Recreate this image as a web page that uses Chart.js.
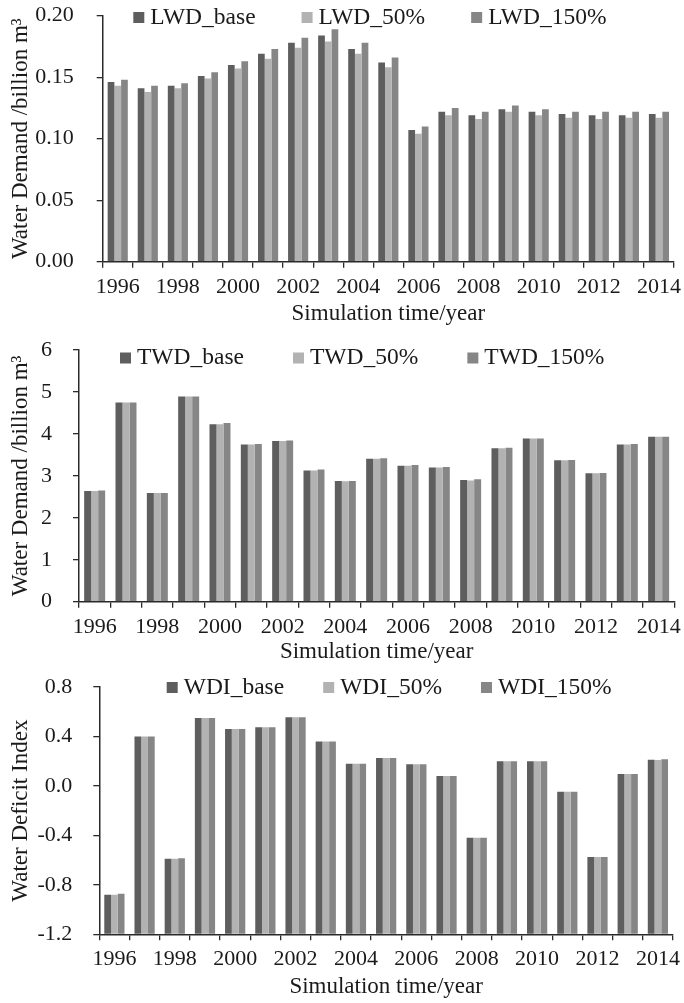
<!DOCTYPE html>
<html><head><meta charset="utf-8">
<script src="https://cdn.jsdelivr.net/npm/chart.js@4.4.0/dist/chart.umd.min.js"></script>
<style>
html,body{margin:0;padding:0;background:#fff;}
#wrap{position:relative;width:684px;height:1003px;overflow:hidden;background:#fff;}
canvas{position:absolute;left:0;}
</style></head><body>
<div id="wrap">
<canvas id="c1" width="684" height="334" style="top:0px"></canvas>
<canvas id="c2" width="684" height="334" style="top:334px"></canvas>
<canvas id="c3" width="684" height="335" style="top:668px"></canvas>
</div>
<script>
// ---------- data ----------
const years = [1996,1997,1998,1999,2000,2001,2002,2003,2004,2005,2006,2007,2008,2009,2010,2011,2012,2013,2014];
const yearTickLabels = ['1996','','1998','','2000','','2002','','2004','','2006','','2008','','2010','','2012','','2014'];

const lwdBase = [0.146,0.141,0.143,0.151,0.160,0.169,0.178,0.184,0.173,0.162,0.107,0.122,0.119,0.124,0.122,0.120,0.119,0.119,0.120];
const lwd50   = [0.143,0.138,0.141,0.149,0.157,0.165,0.174,0.179,0.169,0.158,0.104,0.119,0.116,0.122,0.119,0.117,0.116,0.117,0.117];
const lwd150  = [0.148,0.143,0.145,0.154,0.163,0.173,0.182,0.189,0.178,0.166,0.110,0.125,0.122,0.127,0.124,0.122,0.122,0.122,0.122];

const twdBase = [2.64,4.75,2.59,4.89,4.23,3.75,3.83,3.13,2.88,3.41,3.24,3.20,2.90,3.66,3.89,3.37,3.06,3.75,3.93];
const twd50   = [2.64,4.75,2.59,4.89,4.23,3.75,3.83,3.13,2.87,3.41,3.24,3.20,2.89,3.66,3.89,3.37,3.06,3.75,3.93];
const twd150  = [2.65,4.75,2.59,4.89,4.26,3.76,3.84,3.15,2.88,3.42,3.26,3.21,2.92,3.67,3.89,3.38,3.07,3.76,3.93];

const wdiBase = [-0.880,0.400,-0.590,0.550,0.460,0.475,0.555,0.360,0.180,0.225,0.175,0.080,-0.420,0.200,0.200,-0.048,-0.575,0.097,0.212];
const wdi50   = [-0.880,0.400,-0.590,0.550,0.460,0.475,0.555,0.360,0.180,0.225,0.175,0.080,-0.420,0.200,0.200,-0.048,-0.575,0.097,0.209];
const wdi150  = [-0.873,0.400,-0.585,0.550,0.460,0.475,0.555,0.360,0.180,0.225,0.175,0.080,-0.420,0.200,0.200,-0.048,-0.575,0.097,0.215];

const lwdLabels = ['LWD_base','LWD_50%','LWD_150%'];
const twdLabels = ['TWD_base','TWD_50%','TWD_150%'];
const wdiLabels = ['WDI_base','WDI_50%','WDI_150%'];

// ---------- styles ----------
const colDark = '#5e5e5e', colLight = '#b2b2b2', colMid = '#868686';
const axisColor = '#2a2a2a', textColor = '#1a1a1a';
const serif = "'Liberation Serif','Times New Roman',serif";

const insideLegend = {
  id: 'insideLegend',
  afterDatasetsDraw(chart, args, o) {
    const ctx = chart.ctx;
    ctx.save();
    ctx.font = o.size + 'px ' + serif;
    ctx.textBaseline = 'middle';
    ctx.textAlign = 'left';
    let x = o.x;
    chart.data.datasets.forEach(ds => {
      ctx.fillStyle = ds.backgroundColor;
      ctx.fillRect(x, o.y - o.box / 2, o.box, o.box);
      const tx = x + o.box + o.textGap;
      ctx.fillStyle = textColor;
      ctx.fillText(ds.label, tx, o.y);
      x = tx + ctx.measureText(ds.label).width + o.gap;
    });
    ctx.restore();
  }
};

function makeChart(id, p) {
  const c = document.getElementById(id);
  return new Chart(c, {
    type: 'bar',
    data: {
      labels: years.map(String),
      datasets: [
        {label: p.labels[0], data: p.series[0], backgroundColor: colDark, base: p.base},
        {label: p.labels[1], data: p.series[1], backgroundColor: colLight, base: p.base},
        {label: p.labels[2], data: p.series[2], backgroundColor: colMid, base: p.base}
      ]
    },
    options: {
      responsive: false,
      animation: false,
      devicePixelRatio: 1,
      datasets: { bar: { categoryPercentage: 0.67, barPercentage: 1.0, borderWidth: 0 } },
      layout: { padding: { top: p.top, right: p.right, bottom: 0, left: 0 } },
      plugins: {
        legend: { display: false },
        tooltip: { enabled: false },
        insideLegend: { x: p.legX, y: p.legY, gap: p.legGap, box: 11, textGap: 6, size: 23.5 }
      },
      scales: {
        x: {
          type: 'category',
          offset: true,
          grid: { offset: true, drawOnChartArea: false, drawTicks: true, tickLength: 6, color: axisColor, lineWidth: 1.3 },
          border: { display: true, color: axisColor, width: 1.5 },
          ticks: { autoSkip: false, maxRotation: 0, minRotation: 0, padding: 6, color: textColor,
                   font: { family: serif, size: 22 }, callback: (v, i) => yearTickLabels[i] },
          title: { display: true, text: 'Simulation time/year', color: textColor,
                   font: { family: serif, size: 23 }, padding: { top: 0, bottom: p.titleBottom } },
          afterFit: s => { s.height = p.xH; s.paddingLeft = 0; s.paddingRight = 0; }
        },
        y: {
          min: p.min, max: p.max,
          grid: { drawOnChartArea: false, drawTicks: true, tickLength: 6, color: axisColor, lineWidth: 1.3 },
          border: { display: true, color: axisColor, width: 1.5 },
          ticks: { stepSize: p.step, padding: p.tickPad, color: textColor, font: { family: serif, size: 22 },
                   callback: v => Number(v).toFixed(p.dec) },
          title: { display: true, text: p.yTitle, color: textColor,
                   font: { family: serif, size: 23 }, padding: { top: 7, bottom: 0 } },
          afterFit: s => { s.width = p.yW; s.paddingTop = 0; s.paddingBottom = 0; }
        }
      }
    },
    plugins: [insideLegend]
  });
}

makeChart('c1', {
  labels: lwdLabels, series: [lwdBase, lwd50, lwd150], base: undefined,
  min: 0, max: 0.2, step: 0.05, dec: 2, yTitle: 'Water Demand /billion m³', tickPad: 23,
  top: 15.7, right: 10, yW: 102.7, xH: 334 - 261.7, titleBottom: 6,
  legX: 133.3, legY: 17.5, legGap: 46
});
makeChart('c2', {
  labels: twdLabels, series: [twdBase, twd50, twd150], base: undefined,
  min: 0, max: 6, step: 1, dec: 0, yTitle: 'Water Demand /billion m³', tickPad: 21,
  top: 16, right: 9.7, yW: 79, xH: 334 - 267.7, titleBottom: 2,
  legX: 120, legY: 24, legGap: 49
});
makeChart('c3', {
  labels: wdiLabels, series: [wdiBase, wdi50, wdi150], base: -1.2,
  min: -1.2, max: 0.8, step: 0.4, dec: 1, yTitle: 'Water Deficit Index', tickPad: 21,
  top: 19, right: 11, yW: 99.3, xH: 335 - 266.3, titleBottom: 2,
  legX: 166.7, legY: 19.5, legGap: 39
});
</script>
</body></html>
